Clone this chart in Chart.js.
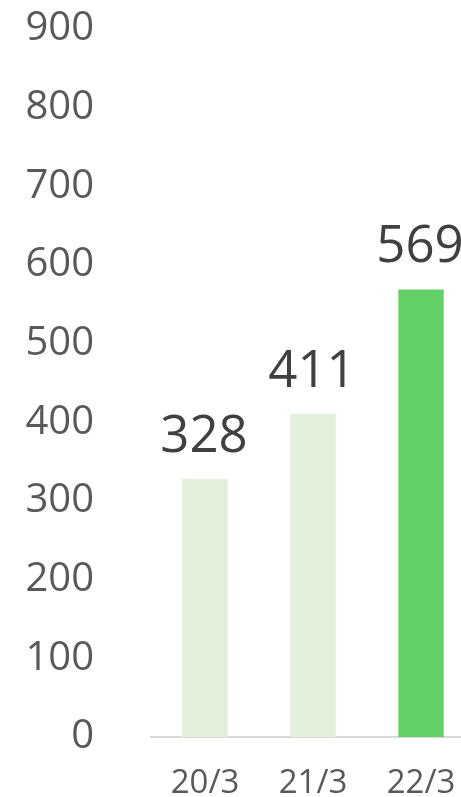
<!DOCTYPE html>
<html>
<head>
<meta charset="utf-8">
<script src="https://cdn.jsdelivr.net/npm/chart.js@4"></script>
<style>
  html, body { margin: 0; padding: 0; overflow: hidden; background: #ffffff; width: 461px; height: 797px; }
  canvas { display: block; }
</style>
</head>
<body>
<canvas id="c" width="475" height="797"></canvas>
<script>
const categories = ["20/3", "21/3", "22/3"];
const values = [328, 411, 569];
const barColors = ["#E2EFDA", "#E2EFDA", "#63CF67"];
const yTicks = [0, 100, 200, 300, 400, 500, 600, 700, 800, 900];

const FONT = "'Open Sans', 'Noto Sans', sans-serif";

const valueLabels = {
  id: "valueLabels",
  afterDatasetsDraw(chart) {
    const ctx = chart.ctx;
    const meta = chart.getDatasetMeta(0);
    ctx.save();
    ctx.font = "51px " + FONT;
    ctx.fillStyle = "#404040";
    ctx.textAlign = "center";
    ctx.textBaseline = "alphabetic";
    meta.data.forEach((bar, i) => {
      ctx.fillText(String(values[i]), bar.x - 1, bar.y - 27);
    });
    ctx.restore();
  }
};

new Chart(document.getElementById("c"), {
  type: "bar",
  data: {
    labels: categories,
    datasets: [{
      data: values,
      backgroundColor: barColors,
      borderWidth: 0,
      categoryPercentage: 1,
      barPercentage: 0.42
    }]
  },
  options: {
    responsive: false,
    animation: false,
    layout: { padding: { top: 29, right: 0, left: 0, bottom: 0 } },
    plugins: { legend: { display: false }, tooltip: { enabled: false } },
    scales: {
      x: {
        grid: { display: false, drawTicks: false },
        border: { display: true, color: "#D9D9D9", width: 2 },
        ticks: { color: "#595959", font: { family: FONT, size: 33 }, padding: 27 },
        afterFit(scale) {
          scale.height = 60;
          scale.paddingLeft = 0;
          scale.paddingRight = 0;
        }
      },
      y: {
        min: 0, max: 900,
        afterBuildTicks(scale) { scale.ticks = yTicks.map(v => ({ value: v })); },
        grid: { display: false, drawTicks: false },
        border: { display: false },
        ticks: { color: "#595959", font: { family: FONT, size: 40 }, padding: 57 },
        afterFit(scale) {
          scale.width = 151;
          scale.paddingTop = 0;
          scale.paddingBottom = 0;
        }
      }
    }
  },
  plugins: [valueLabels]
});
</script>
</body>
</html>
